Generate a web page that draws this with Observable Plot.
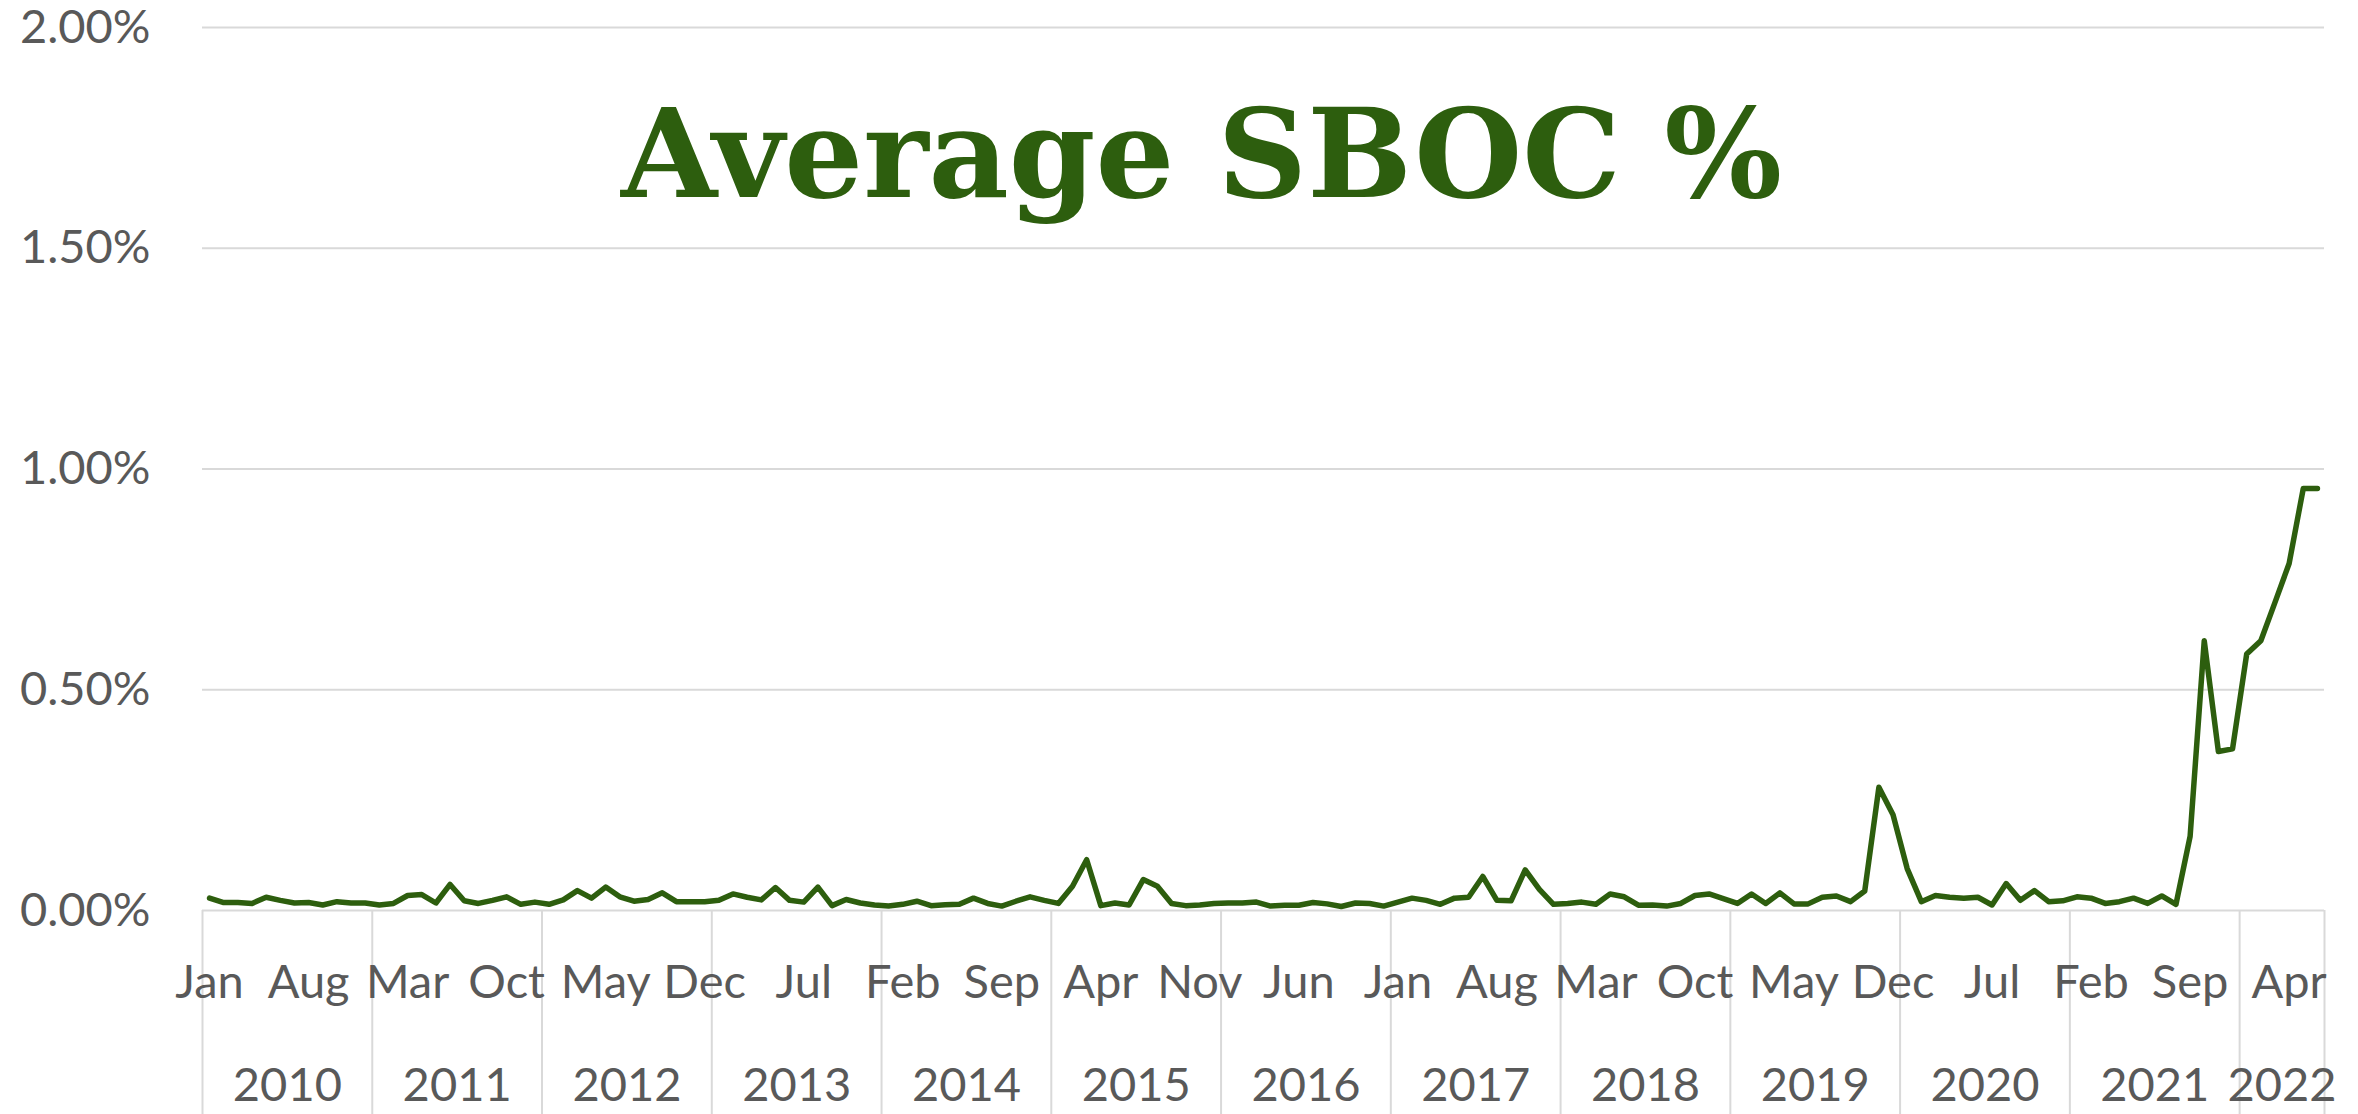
<!DOCTYPE html>
<html>
<head>
<meta charset="utf-8">
<script src="https://cdn.jsdelivr.net/npm/d3@7"></script>
<script src="https://cdn.jsdelivr.net/npm/@observablehq/plot@0.6"></script>
<style>
  html, body { margin: 0; padding: 0; background: #ffffff; }
  #chart svg { display: block; }
</style>
</head>
<body>
<div id="chart"></div>
<script>
// ---- Data (values in percent) ----
const title = "Average SBOC %";
const startYear = 2010;
const monthLabels = ["Jan","Feb","Mar","Apr","May","Jun","Jul","Aug","Sep","Oct","Nov","Dec"];
const yearLabels = [2010, 2011, 2012, 2013, 2014, 2015, 2016, 2017, 2018, 2019, 2020, 2021, 2022];
const yTicks = [0, 0.5, 1.0, 1.5, 2.0];
const sbocPct = [
  0.028, 0.018, 0.018, 0.016, 0.030, 0.023, 0.017, 0.018, 0.0125, 0.020, 0.017, 0.017, // 2010
  0.0125, 0.016, 0.034, 0.036, 0.017, 0.059, 0.022, 0.016, 0.023, 0.031, 0.014, 0.019, // 2011
  0.014, 0.024, 0.045, 0.028, 0.053, 0.031, 0.021, 0.025, 0.040, 0.020, 0.020, 0.020,   // 2012
  0.023, 0.0375, 0.030, 0.024, 0.052, 0.023, 0.019, 0.053, 0.011, 0.025, 0.017, 0.0125, // 2013
  0.010, 0.014, 0.021, 0.011, 0.013, 0.014, 0.028, 0.016, 0.010, 0.021, 0.031, 0.023,   // 2014
  0.016, 0.055, 0.115, 0.011, 0.017, 0.0125, 0.070, 0.055, 0.016, 0.011, 0.0125, 0.016, // 2015
  0.017, 0.017, 0.019, 0.010, 0.012, 0.012, 0.018, 0.015, 0.009, 0.017, 0.016, 0.010,   // 2016
  0.019, 0.028, 0.023, 0.014, 0.028, 0.030, 0.077, 0.023, 0.022, 0.092, 0.048, 0.014,   // 2017
  0.016, 0.019, 0.014, 0.0375, 0.031, 0.012, 0.0125, 0.010, 0.016, 0.034, 0.0375, 0.027, // 2018
  0.016, 0.0375, 0.016, 0.040, 0.015, 0.015, 0.030, 0.033, 0.020, 0.044, 0.279, 0.217,  // 2019
  0.095, 0.020, 0.034, 0.030, 0.028, 0.030, 0.0125, 0.061, 0.023, 0.045, 0.020, 0.022,  // 2020
  0.031, 0.028, 0.016, 0.020, 0.028, 0.016, 0.033, 0.014, 0.168, 0.611, 0.360, 0.366,   // 2021
  0.581, 0.611, 0.698, 0.786, 0.956, 0.956                                              // 2022
];

// ---- Derived tables ----
const data = sbocPct.map((v, i) => ({i, value: v, month: monthLabels[i % 12], year: startYear + Math.floor(i / 12)}));
const n = data.length;
const monthTicks = d3.range(0, n, 7);
const yearBounds = yearLabels.map((y, k) => k * 12 - 0.5).concat([n - 0.5]);
const yearCenters = yearLabels.map((y, k) => {
  const s = k * 12, e = Math.min(n, s + 12);
  return (s + e - 1) / 2;
});
const yearAt = new Map(yearCenters.map((c, k) => [c, yearLabels[k]]));

const green = "#2d5e0e";
const gray = "#d9d9d9";
const textGray = "#595959";
const labelFont = "Lato, 'Noto Sans', sans-serif";

const chart = Plot.plot({
  width: 2358,
  height: 1114,
  marginLeft: 202,
  marginRight: 34,
  marginTop: 27,
  marginBottom: 204,
  style: {background: "#ffffff", fontFamily: labelFont, fontSize: "47px", color: textGray, overflow: "visible"},
  x: {domain: [-0.5, n - 0.5]},
  y: {domain: [0, 2]},
  marks: [
    Plot.gridY(yTicks, {stroke: gray, strokeOpacity: 1, strokeWidth: 2}),
    Plot.axisY(yTicks, {tickSize: 0, tickPadding: 52, tickFormat: d => d.toFixed(2) + "%", fill: textGray, fontSize: 47, label: null}),
    // year separator lines
    Plot.axisX(yearBounds, {anchor: "bottom", tickSize: 204, text: null, stroke: gray, strokeWidth: 2, label: null}),
    // month labels
    Plot.axisX(monthTicks, {anchor: "bottom", tickSize: 0, tickPadding: 54, tickFormat: i => monthLabels[i % 12], fill: textGray, fontSize: 47, label: null}),
    // year labels
    Plot.axisX(yearCenters, {anchor: "bottom", tickSize: 0, tickPadding: 157, tickFormat: c => String(yearAt.get(c)), fill: textGray, fontSize: 47, label: null}),
    Plot.line(data, {x: "i", y: "value", stroke: green, strokeWidth: 5.5, strokeLinejoin: "round", strokeLinecap: "round"}),
    Plot.text([title], {
      frameAnchor: "top", lineAnchor: "bottom", dx: -62, dy: 169,
      text: d => d, fill: green, fontSize: 124, fontWeight: "bold",
      fontFamily: "'DejaVu Serif', serif"
    })
  ]
});
document.getElementById("chart").appendChild(chart);
</script>
</body>
</html>
